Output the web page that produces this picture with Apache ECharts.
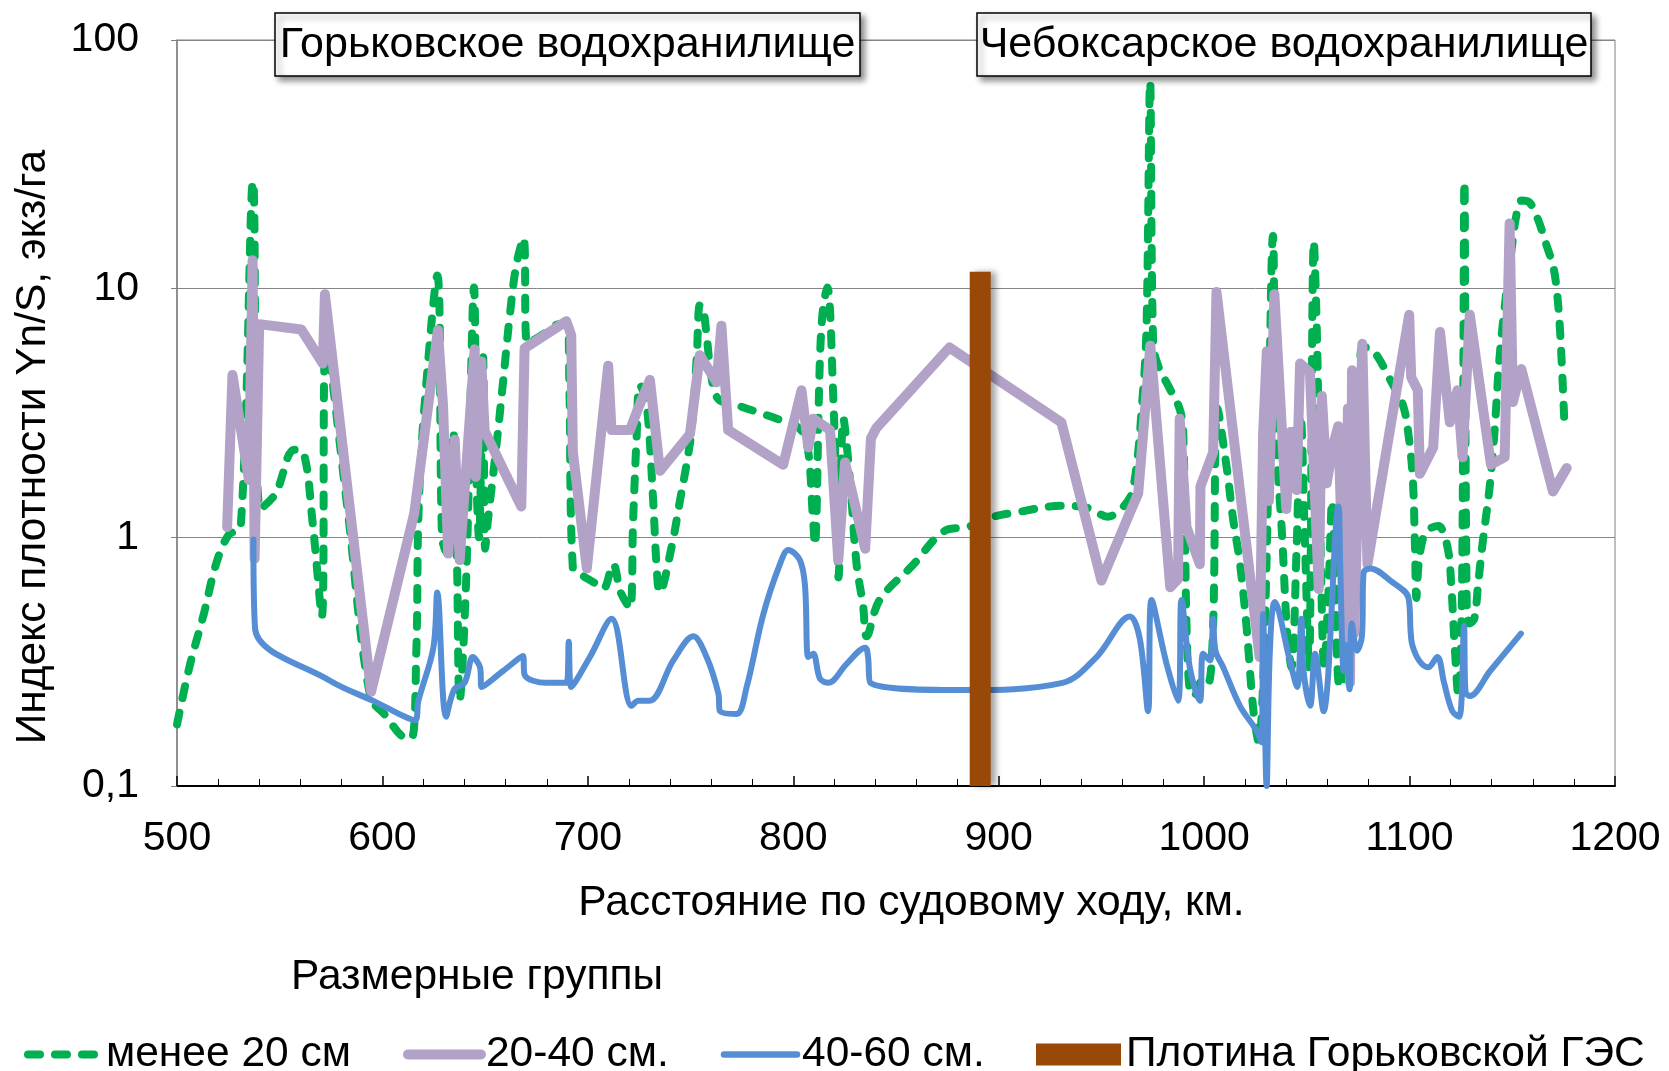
<!DOCTYPE html>
<html><head><meta charset="utf-8">
<script src="https://cdn.jsdelivr.net/npm/echarts@6/dist/echarts.min.js"></script>
<style>html,body{margin:0;padding:0;background:#fff}#c{width:1669px;height:1071px}</style>
</head><body><div id="c"></div>
<script>
// ---- data ----
const yTickLabels = ['0,1', '1', '10', '100'];
const seriesNames = ['менее 20 см', '20-40 см.', '40-60 см.', 'Плотина Горьковской ГЭС'];
const panelLabels = ['Горьковское водохранилище', 'Чебоксарское водохранилище'];

const greenKm = [500,506,513,519,525,531,537,540.5,548,557,561.5,566,570.5,572.5,583,594,602,609,614,616.5,617.5,620,626.7,629,631,634.4,636.3,637.6,640.8,644.6,645.8,647,649,650,651.5,655.4,658.7,662,665.2,668.7,670.5,680,686,690,691,692.7,697.6,704,707.5,712.3,716,720.5,722,723.7,725.3,728.5,731.8,733.4,735,740.7,744.8,748,750.5,753,754.5,756,757.8,760.2,763.5,772.4,782,792,801.6,806.5,809.7,810.5,813,814.6,816.6,819.5,821,822,824.4,827.6,830.8,834,835.7,842,858,874.5,885,895.6,908.6,931,944,953,960,965.4,970.3,972,973.7,975.2,977.6,983,988,989.8,991.4,993,995,999.5,1002,1004.4,1006.5,1011,1014,1017.4,1020.6,1024,1026.5,1030,1033.5,1035,1038,1040.5,1042.5,1045,1047,1049,1051,1053.4,1055,1056.5,1058.5,1060.5,1062.3,1064,1066,1068,1070,1073,1075.5,1077,1080,1084,1090.6,1096.8,1099.7,1101.6,1102.6,1103.3,1104.4,1106.7,1109.5,1114,1118.5,1120.3,1122,1123.7,1125.5,1126.7,1127.8,1129.2,1131.5,1133.3,1135.5,1139,1141.4,1143.8,1147,1149.5,1152,1154.4,1158.4,1162.5,1166.6,1169.8,1171.4,1173,1174.4,1175.5];
const greenVal = [0.177,0.30,0.49,0.78,1.02,1.1,27,1.3,1.5,2.25,2.2,1.15,0.48,6.3,1.3,0.23,0.19,0.16,0.155,0.35,1.2,3.0,11.3,1.0,0.87,2.67,0.78,0.22,0.69,10.1,1.7,1.0,5.3,0.9,1.2,2.3,4.2,7.8,12.5,16,6.0,6.7,7.2,7.2,4.0,0.75,0.7,0.65,0.62,0.78,0.6,0.52,1.15,2.5,4.1,3.5,1.4,0.78,0.6,0.91,1.4,1.96,2.7,5.3,8.6,8.4,6.5,4.4,3.6,3.4,3.2,3.0,2.8,2.45,1.15,0.93,5.3,8.5,10.1,3.6,1.4,0.69,3.0,1.7,0.78,0.53,0.40,0.56,0.77,1.07,1.1,1.2,1.26,1.34,1.31,1.21,1.31,1.56,3.9,7.3,68,6.0,4.9,4.0,3.3,2.7,0.45,0.24,0.23,0.27,0.26,0.45,3.3,1.9,1.2,0.79,0.44,0.2,0.15,0.6,16.3,2.6,1.0,0.4,0.3,0.9,3.1,1.0,0.3,15.5,6.0,1.1,0.3,0.6,1.4,0.5,0.25,0.27,0.9,2.4,4.2,5.8,5.8,5.4,4.3,3.4,2.5,1.7,0.94,0.57,0.78,1.0,1.08,1.11,0.91,0.64,0.36,0.23,0.6,27,0.55,0.45,0.47,0.64,0.94,1.6,2.7,5.3,9.5,14,19.8,22.6,22.2,19,15,12.4,10.3,7.3,4.4,2.7];

const purpleKm = [524.4,527,535,536.8,537.8,540,560.5,571,572,594.5,615.5,627,629.5,632,635.2,637.6,644.9,645.4,648.1,649.8,667.6,669.2,689.5,691.9,692.7,699.5,709.9,711.5,720.5,724.5,730.2,735.1,749.7,754.5,762.7,765,768.3,795.1,804,807.3,809.7,817.9,821.9,825.2,835,837.8,840.4,876,930.5,950,964.6,967.9,973.8,983.5,987.3,988.1,991.4,997.9,998.2,1004.4,1006,1027,1028.7,1030.5,1031.5,1034.2,1040,1042,1043.5,1045,1046.7,1051.5,1055.8,1057.3,1059.7,1062.5,1065.3,1068.5,1070,1071,1072,1073,1077,1079.5,1099.8,1100.8,1104,1105,1111.5,1114.8,1119.6,1123.3,1125.8,1129.3,1139.6,1146.3,1148.7,1150.3,1154.4,1169.8,1176.5];
const purpleVal = [1.1,4.5,1.7,13,0.82,7.2,6.85,5.0,9.5,0.24,1.25,6.8,3.4,0.86,2.47,0.81,5.7,1.75,5.1,2.67,1.33,5.76,7.4,6.5,2.2,0.75,4.9,2.7,2.7,3.3,4.3,1.85,2.6,5.4,4.2,7.1,2.7,1.96,3.9,2.3,3.0,2.7,0.81,2.0,0.9,2.5,2.75,5.8,2.9,0.67,1.3,1.5,5.9,0.63,0.68,3.0,1.1,0.78,1.6,2.2,9.7,0.33,2.6,5.6,1.4,9.5,1.3,2.65,2.65,1.55,5.0,4.6,0.62,3.7,1.65,2.3,2.8,0.38,3.3,0.26,4.7,0.41,6.0,0.78,7.85,4.4,3.9,1.8,2.3,6.7,2.9,3.9,2.1,7.85,1.96,2.1,18.3,3.5,4.75,1.53,1.9];

const blueKm = [537.2,538,574.5,595.6,615.9,617.5,624.8,626.7,631,635,640,644,647.5,648.3,658.7,668.4,669.2,679.7,689.7,690.7,691.9,701,711.5,721.3,724.5,730,741.6,751.3,757.8,763.5,764.3,772.4,777.3,785.4,793.5,797.6,803.2,805.7,807.3,809.7,813,817,826,835,836.4,837.5,882.6,931,947.6,963.8,968.7,972.7,974.4,981.7,987.3,989,993,997.9,999.5,1002.8,1004.4,1005.5,1009.3,1017.4,1025.5,1027.9,1028.7,1030.4,1032,1034.4,1041.7,1045.3,1047.3,1048.4,1051.6,1054,1058.1,1065.4,1066.2,1067.9,1068.7,1070.8,1071.9,1074.4,1076.8,1077.6,1080.8,1090.6,1099.5,1100.5,1101.3,1104.6,1109,1113.5,1116.8,1120.8,1124.2,1126.5,1127.2,1129.3,1139.2,1154.2];
const blueVal = [0.98,0.43,0.265,0.22,0.184,0.22,0.36,0.6,0.19,0.245,0.26,0.33,0.3,0.25,0.29,0.333,0.28,0.26,0.26,0.38,0.25,0.33,0.47,0.21,0.22,0.22,0.32,0.40,0.33,0.236,0.2,0.195,0.25,0.49,0.78,0.89,0.81,0.64,0.33,0.34,0.27,0.26,0.31,0.36,0.33,0.26,0.243,0.26,0.33,0.48,0.39,0.2,0.56,0.31,0.22,0.56,0.3,0.22,0.34,0.32,0.47,0.35,0.3,0.21,0.167,0.15,0.49,0.1,0.35,0.55,0.32,0.25,0.47,0.29,0.21,0.34,0.2,1.33,0.78,0.29,0.37,0.245,0.45,0.35,0.4,0.72,0.75,0.67,0.57,0.42,0.37,0.32,0.3,0.33,0.26,0.2,0.19,0.44,0.24,0.23,0.29,0.41];

const damKm = [891, 891];
const damVal = [0.1, 11.7];

// ---- chart ----
const FONT = '"Liberation Sans", Arial, sans-serif';
const TXT = 42.5;
const zip = (a, b) => a.map((x, i) => [x, b[i]]);
const hidden = {color: 'rgba(0,0,0,0)', borderColor: 'rgba(0,0,0,0)', borderWidth: 0};
const chart = echarts.init(document.getElementById('c'), null, {renderer: 'canvas'});

const option = {
  animation: false,
  backgroundColor: '#ffffff',
  textStyle: {fontFamily: FONT},
  title: {
    text: 'Размерные группы', left: 291, top: 956, padding: 0,
    textStyle: {fontSize: TXT, fontWeight: 'normal', color: '#000', fontFamily: FONT}
  },
  grid: {left: 177, top: 40, width: 1438, height: 746, show: true,
         borderColor: '#808080', borderWidth: 1, backgroundColor: 'transparent'},
  legend: [
    {
      left: 24, top: 1033, itemWidth: 73, itemHeight: 22, itemGap: 52, padding: 0,
      textStyle: {fontSize: TXT, color: '#000', fontFamily: FONT},
      data: [
        {name: seriesNames[0], itemStyle: hidden, lineStyle: {width: 8, type: [12, 15], cap: 'round', color: '#00B050'}},
        {name: seriesNames[1], itemStyle: hidden, lineStyle: {width: 10, cap: 'round', color: '#B3A2C7'}},
        {name: seriesNames[2], itemStyle: hidden, lineStyle: {width: 6.5, cap: 'round', color: '#558ED5'}}
      ]
    },
    {
      left: 1036, top: 1033, itemWidth: 85, itemHeight: 22, padding: 0,
      textStyle: {fontSize: TXT, color: '#000', fontFamily: FONT},
      data: [{name: seriesNames[3], icon: 'rect'}]
    }
  ],
  xAxis: {
    type: 'value', min: 500, max: 1200, interval: 100,
    axisLine: {lineStyle: {color: '#000', width: 2}},
    axisTick: {inside: true, length: 10, lineStyle: {color: '#000', width: 1.5}},
    minorTick: {show: true, splitNumber: 5, length: 7, lineStyle: {color: '#000', width: 1}},
    axisLabel: {fontSize: 41, color: '#000', margin: 32, fontFamily: FONT, formatter: v => String(v)},
    splitLine: {show: false},
    name: 'Расстояние по судовому ходу, км.', nameLocation: 'middle', nameGap: 96,
    nameTextStyle: {fontSize: TXT, color: '#000', fontFamily: FONT, padding: [0, 0, 0, 31]}
  },
  yAxis: {
    type: 'log', logBase: 10, min: 0.1, max: 100,
    axisLine: {show: true, lineStyle: {color: '#808080', width: 1.5}},
    axisTick: {show: true, length: 6, lineStyle: {color: '#808080'}},
    minorTick: {show: false},
    axisLabel: {fontSize: 41, color: '#000', margin: 38, fontFamily: FONT,
                formatter: v => yTickLabels[Math.round(Math.log10(v)) + 1]},
    splitLine: {show: true, lineStyle: {color: '#868686', width: 1}},
    name: 'Индекс плотности Yn/S, экз/га', nameLocation: 'middle', nameGap: 122, nameRotate: 90,
    nameTextStyle: {fontSize: TXT, color: '#000', fontFamily: FONT, padding: [0, 68, 0, 0]}
  },
  series: [
    {name: seriesNames[0], type: 'line', data: zip(greenKm, greenVal), symbol: 'none', smooth: 0.35,
     lineStyle: {color: '#00B050', width: 8, type: [12, 15], cap: 'round', join: 'round'},
     itemStyle: {color: '#00B050'}, z: 2},
    {name: seriesNames[1], type: 'line', data: zip(purpleKm, purpleVal), symbol: 'none', smooth: false,
     lineStyle: {color: '#B3A2C7', width: 10, cap: 'round', join: 'round'},
     itemStyle: {color: '#B3A2C7'}, z: 3},
    {name: seriesNames[2], type: 'line', data: zip(blueKm, blueVal), symbol: 'none', smooth: 0.35,
     lineStyle: {color: '#558ED5', width: 6, cap: 'round', join: 'round'},
     itemStyle: {color: '#558ED5'}, z: 4},
    {name: seriesNames[3], type: 'line', data: zip(damKm, damVal), symbol: 'none',
     lineStyle: {color: '#984807', width: 21, cap: 'butt',
                 shadowColor: 'rgba(0,0,0,0.35)', shadowBlur: 6, shadowOffsetX: 5},
     itemStyle: {color: '#984807'}, z: 5}
  ],
  graphic: [
    {type: 'rect', z: 100, shape: {x: 275, y: 13, width: 585, height: 63},
     style: {fill: '#fff', stroke: '#000', lineWidth: 1.5, shadowBlur: 6, shadowOffsetX: 4, shadowOffsetY: 4, shadowColor: 'rgba(0,0,0,0.45)'}},
    {type: 'text', z: 101, x: 567.5, y: 45,
     style: {text: panelLabels[0], fill: '#000', font: '43px ' + FONT, textAlign: 'center', textVerticalAlign: 'middle'}},
    {type: 'rect', z: 100, shape: {x: 977, y: 13, width: 614, height: 63},
     style: {fill: '#fff', stroke: '#000', lineWidth: 1.5, shadowBlur: 6, shadowOffsetX: 4, shadowOffsetY: 4, shadowColor: 'rgba(0,0,0,0.45)'}},
    {type: 'text', z: 101, x: 1284, y: 45,
     style: {text: panelLabels[1], fill: '#000', font: '43px ' + FONT, textAlign: 'center', textVerticalAlign: 'middle'}}
  ]
};
chart.setOption(option);
</script>
</body></html>
